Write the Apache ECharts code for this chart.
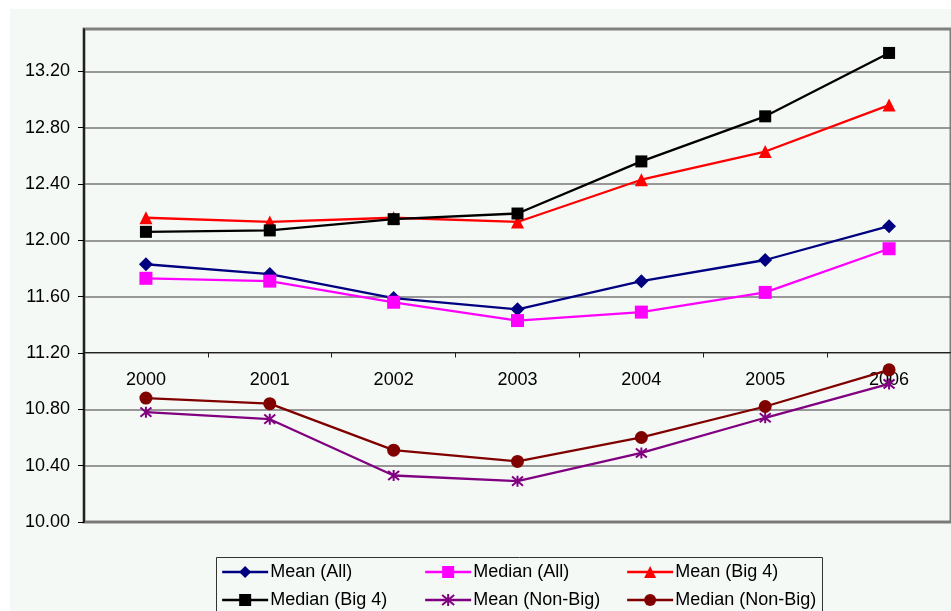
<!DOCTYPE html>
<html>
<head>
<meta charset="utf-8">
<title>Mean and median by year</title>
<script src="https://cdn.jsdelivr.net/npm/echarts@6/dist/echarts.min.js"></script>
<style>
  html, body { margin: 0; padding: 0; background: #ffffff; }
  #chart { width: 951px; height: 611px; }
</style>
</head>
<body>
<div id="chart"></div>
<script>
// Years on the category axis
const years = ['2000', '2001', '2002', '2003', '2004', '2005', '2006'];

// Values per series
const meanAll      = [11.83, 11.76, 11.59, 11.51, 11.71, 11.86, 12.10];
const medianAll    = [11.73, 11.71, 11.56, 11.43, 11.49, 11.63, 11.94];
const meanBig4     = [12.16, 12.13, 12.16, 12.13, 12.43, 12.63, 12.96];
const medianBig4   = [12.06, 12.07, 12.15, 12.19, 12.56, 12.88, 13.33];
const meanNonBig   = [10.78, 10.73, 10.33, 10.29, 10.49, 10.74, 10.98];
const medianNonBig = [10.88, 10.84, 10.51, 10.43, 10.60, 10.82, 11.08];

// Value axis tick labels
const yTicks = [10.0, 10.4, 10.8, 11.2, 11.6, 12.0, 12.4, 12.8, 13.2];

const FONT = 'Liberation Sans, Arial, sans-serif';
const PANEL = '#F5F9F6';

// Asterisk marker drawn as stroked strokes
const ASTERISK = 'path://M0,0L10,10M10,0L0,10M5,-1L5,11';

function lineSeries(name, data, color, symbol, extra) {
  return Object.assign({
    name: name,
    type: 'line',
    data: data,
    symbol: symbol,
    symbolSize: 12,
    showAllSymbol: true,
    lineStyle: { color: color, width: 2.3 },
    itemStyle: { color: color },
    emphasis: { disabled: true },
    animation: false
  }, extra || {});
}

const chart = echarts.init(document.getElementById('chart'), null, { renderer: 'canvas' });

const legendCommon = {
  orient: 'vertical',
  top: 562,
  itemWidth: 46,
  itemHeight: 15,
  itemGap: 8,
  padding: 0,
  selectedMode: false,
  lineStyle: { width: 2.3 },
  textStyle: { fontFamily: FONT, fontSize: 18, color: '#000', lineHeight: 20, padding: [0, 0, 0, -3] }
};

chart.setOption({
  backgroundColor: '#ffffff',
  textStyle: { fontFamily: FONT },
  graphic: [
    {
      type: 'rect', z: -10,
      shape: { x: 10, y: 9, width: 941, height: 602 },
      style: { fill: PANEL }
    },
    {
      type: 'rect', z: 1,
      shape: { x: 216.5, y: 557.5, width: 606, height: 70 },
      style: { fill: PANEL, stroke: '#333333', lineWidth: 1 }
    }
  ],
  legend: [
    Object.assign({ left: 221, data: ['Mean (All)', 'Median (Big 4)'] }, legendCommon),
    Object.assign({ left: 424, data: ['Median (All)', 'Mean (Non-Big)'] }, legendCommon),
    Object.assign({ left: 626, data: ['Mean (Big 4)', 'Median (Non-Big)'] }, legendCommon)
  ],
  grid: {
    left: 84, top: 29, width: 871, height: 493,
    show: true,
    backgroundColor: PANEL,
    borderColor: '#808080',
    borderWidth: 3
  },
  xAxis: {
    type: 'category',
    data: years,
    boundaryGap: true,
    position: 'bottom',
    offset: -169.5,
    axisLine: { show: true, lineStyle: { color: '#222', width: 1 } },
    axisTick: { show: true, alignWithLabel: false, length: 5, lineStyle: { color: '#222' } },
    axisLabel: { fontSize: 18, color: '#000', margin: 19, fontFamily: FONT },
    splitLine: { show: false }
  },
  yAxis: {
    type: 'value',
    min: 10,
    max: 13.5,
    interval: 0.4,
    axisLine: { show: true, lineStyle: { color: '#000', width: 1.5 } },
    axisTick: { show: true, length: 6, lineStyle: { color: '#000' }, customValues: yTicks },
    axisLabel: {
      fontSize: 18, color: '#000', margin: 14, fontFamily: FONT,
      customValues: yTicks,
      formatter: v => v.toFixed(2)
    },
    splitLine: { show: true, lineStyle: { color: '#777777', width: 1.5 } }
  },
  series: [
    lineSeries('Mean (All)', meanAll, '#000080', 'diamond', { symbolSize: 14 }),
    lineSeries('Median (All)', medianAll, '#FF00FF', 'rect', { symbolSize: 13 }),
    lineSeries('Mean (Big 4)', meanBig4, '#FF0000', 'triangle', { symbolSize: 13 }),
    lineSeries('Median (Big 4)', medianBig4, '#000000', 'rect', { symbolSize: 12 }),
    lineSeries('Mean (Non-Big)', meanNonBig, '#800080', ASTERISK, {
      symbolSize: 11,
      itemStyle: { color: 'rgba(0,0,0,0)', borderColor: '#800080', borderWidth: 2 }
    }),
    lineSeries('Median (Non-Big)', medianNonBig, '#800000', 'circle', { symbolSize: 13 })
  ]
});
</script>
</body>
</html>
